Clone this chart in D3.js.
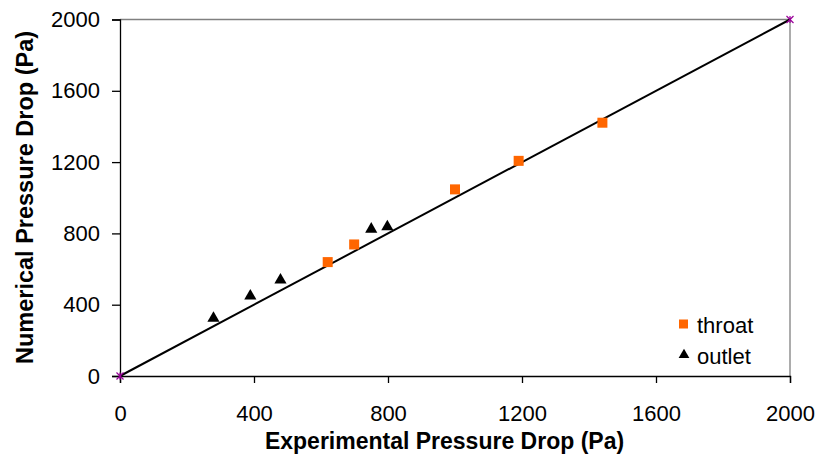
<!DOCTYPE html>
<html><head><meta charset="utf-8">
<script src="https://cdn.jsdelivr.net/npm/d3@7"></script>
<style>html,body{margin:0;padding:0;background:#fff;} svg{display:block;font-family:"Liberation Sans",Arial,sans-serif;}</style>
</head><body>
<svg id="chart" width="821" height="457"></svg>
<script>
const tickValues = [0, 400, 800, 1200, 1600, 2000];
const throatX = [620, 699, 1000, 1190, 1440];
const throatY = [639, 738, 1047, 1207, 1421];
const outletX = [279, 389, 479, 750, 798];
const outletY = [324, 449, 538, 824, 837];
const lineX = [0, 2000];
const lineY = [0, 2000];
const seriesNames = ["throat", "outlet"];
const xTitle = "Experimental Pressure Drop (Pa)";
const yTitle = "Numerical Pressure Drop (Pa)";

const svg = d3.select("#chart");
const x = d3.scaleLinear().domain([0, 2000]).range([120, 790]);
const y = d3.scaleLinear().domain([0, 2000]).range([376, 19.5]);

// frame (top/right)
svg.append("path").attr("d", `M${x(0)},${y(2000)}H${x(2000)}V${y(0)}`)
  .attr("fill", "none").attr("stroke", "#808080").attr("stroke-width", 1.3);

const xAxis = svg.append("g").attr("transform", `translate(0,${y(0)})`)
  .call(d3.axisBottom(x).tickValues(tickValues).tickSize(7).tickPadding(22).tickFormat(d3.format("d")));
const yAxis = svg.append("g").attr("transform", `translate(${x(0)},0)`)
  .call(d3.axisLeft(y).tickValues(tickValues).tickSize(8).tickPadding(12).tickFormat(d3.format("d")));
[xAxis, yAxis].forEach(a => {
  a.select(".domain").attr("stroke", "#000").attr("stroke-width", 1.3);
  a.selectAll(".tick line").attr("stroke", "#000").attr("stroke-width", 1.3);
  a.selectAll(".tick text").attr("font-size", 22).attr("fill", "#000")
    .attr("font-family", '"Liberation Sans",Arial,sans-serif');
});
// lines
const lineData = lineX.map((v, i) => [v, lineY[i]]);
svg.append("path").datum(lineData)
  .attr("d", d3.line().x(d => x(d[0])).y(d => y(d[1])))
  .attr("fill", "none").attr("stroke", "#000").attr("stroke-width", 2);
// star markers at line ends
const star = svg.append("g");
lineData.forEach(d => {
  const cx = x(d[0]), cy = y(d[1]), r = 3.5;
  star.append("path")
    .attr("d", `M${cx - r},${cy - r}L${cx + r},${cy + r}M${cx - r},${cy + r}L${cx + r},${cy - r}M${cx},${cy - r}V${cy + r}`)
    .attr("stroke", "#990099").attr("stroke-width", 1.2).attr("fill", "none");
});

// throat squares
const sq = 10;
svg.append("g").selectAll("rect").data(throatX.map((v, i) => [v, throatY[i]])).join("rect")
  .attr("x", d => x(d[0]) - sq / 2).attr("y", d => y(d[1]) - sq / 2)
  .attr("width", sq).attr("height", sq).attr("fill", "#ff6600");

// outlet triangles
const tri = d3.symbol().type(d3.symbolTriangle).size(64);
svg.append("g").selectAll("path").data(outletX.map((v, i) => [v, outletY[i]])).join("path")
  .attr("d", tri).attr("transform", d => `translate(${x(d[0])},${y(d[1])})`).attr("fill", "#000");

// legend
const lg = svg.append("g");
lg.append("rect").attr("x", 679).attr("y", 319.5).attr("width", 9).attr("height", 9).attr("fill", "#ff6600");
lg.append("path").attr("d", d3.symbol().type(d3.symbolTriangle).size(50)).attr("transform", "translate(684,355)").attr("fill", "#000");
lg.selectAll("text").data(seriesNames).join("text")
  .attr("x", 697).attr("y", (d, i) => 332.5 + i * 31)
  .attr("font-size", 22).attr("fill", "#000").text(d => d);

// titles
svg.append("text").attr("x", 444.5).attr("y", 449).attr("text-anchor", "middle")
  .attr("font-size", 23).attr("font-weight", "bold").text(xTitle);
svg.append("text").attr("transform", "translate(33,197.5) rotate(-90)").attr("text-anchor", "middle")
  .attr("font-size", 23.5).attr("font-weight", "bold").text(yTitle);
</script>
</body></html>
